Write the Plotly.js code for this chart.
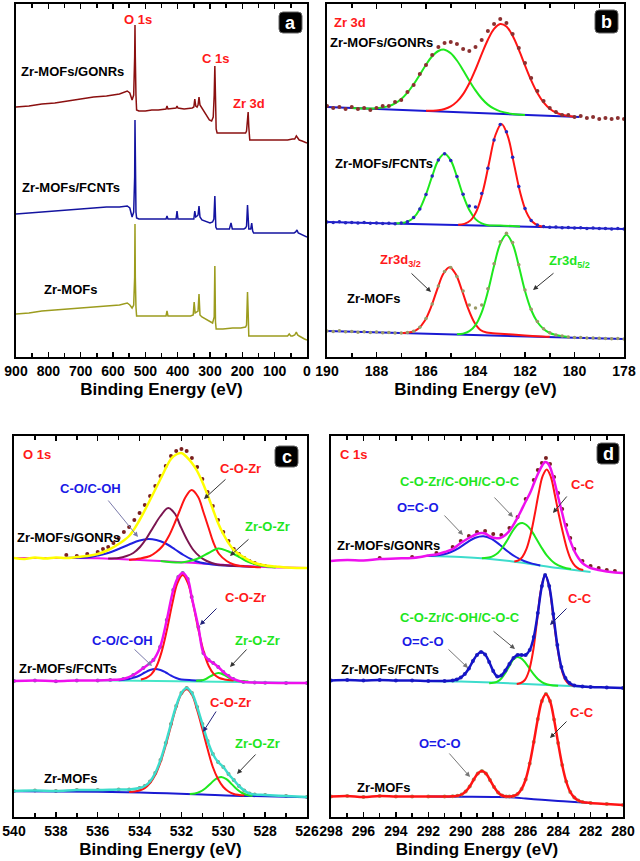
<!DOCTYPE html>
<html><head><meta charset="utf-8">
<script src="https://cdn.plot.ly/plotly-3.0.1.min.js"></script>
<style>html,body{margin:0;padding:0;background:#fff}#chart{width:640px;height:861px}</style>
</head><body><div id="chart"></div>
<script>
// ===================== DATA =====================
// ---- tick labels ----
const aTicks = [0,100,200,300,400,500,600,700,800,900];
const bTicks = [178,180,182,184,186,188,190];
const cTicks = [526,528,530,532,534,536,538,540];
const dTicks = [280,282,284,286,288,290,292,294,296,298];

// ---- Panel a: survey spectra (binding energy eV, intensity a.u.) ----
const aE_gonrs = [900,860,820,780,740,700,660,620,580,556,548,541,536,533,532,531,529,527,520,500,480,460,436,433,430,405,402,399,380,355,350,347,344,340,337,334,331,325,318,310,302,295,290,287,285,283,281,278,270,250,230,210,195,190,187,184,182,180,177,160,140,120,100,80,60,45,38,33,29,24,15,8,0];
const aI_gonrs = [250,251,253,254,256,258,260,261,263,266,264,257,262,300,332,300,262,247,246,246,247,247,248,251,248,249,251,249,248,249,250,258,251,250,252,260,252,249,245,241,237,236,240,262,291,260,228,224,224,224,224,224,224,224,226,240,245,230,217,217,217,217,217,217,217,218,218,221,219,217,216,215,214];
const aE_fcnts = [900,860,820,780,740,700,660,620,580,556,548,541,536,533,532,531,529,527,520,480,440,436,433,430,405,402,399,355,350,347,344,340,337,334,331,325,310,300,292,288,285,282,279,260,240,235,231,228,205,195,190,187,184,182,180,174,171,168,165,140,100,60,40,35,31,27,20,10,0];
const aI_fcnts = [143,144,145,146,147,148,149,150,150,151,149,140,145,180,237,180,145,139,138,138,138,138,141,138,138,146,138,138,138,146,140,141,142,151,140,137,135,134,135,138,161,130,128,128,128,134,128,128,128,128,129,131,152,138,128,128,134,126,124,124,124,124,124,125,127,124,123,121,120];
const aE_mofs = [900,860,820,780,740,700,660,620,580,556,548,541,536,533,532,531,529,527,520,480,440,436,433,430,400,360,352,349,346,340,337,334,331,325,315,305,298,292,287,285,283,281,260,230,205,195,190,187,184,182,180,170,140,100,70,60,55,50,45,38,33,29,24,15,8,0];
const aI_mofs = [43,44,46,47,48,49,50,51,52,54,52,49,52,80,133,80,50,41,41,41,41,41,46,41,41,41,42,55,44,45,46,63,42,40,38,36,35,34,40,91,35,28,28,29,29,30,30,32,65,45,21,21,21,21,21,21,23,21,21,22,25,22,21,19,18,17];

// ---- Panel b: Zr 3d ----
const bE_dots = [190,189.75,189.5,189.25,189,188.75,188.5,188.25,188,187.75,187.5,187.25,187,186.75,186.5,186.25,186,185.75,185.5,185.25,185,184.75,184.5,184.25,184,183.75,183.5,183.25,183,182.75,182.5,182.25,182,181.75,181.5,181.25,181,180.75,180.5,180.25,180,179.75,179.5,179.25,179,178.75,178.5,178.25,178];
const bI_gonrs_dots = [251,249,250,248,250,248,249,247,249,251,251,255,257,265,272,283,292,302,310,314,315,313,308,306,310,317,326,333,338,334,323,309,294,279,266,256,249,245,242,242,240,241,239,240,238,239,238,239,238];
const bE_gonrs_g = [189,188.5,188,187.5,187.25,187,186.75,186.5,186.25,186,185.75,185.5,185.25,185,184.75,184.5,184.25,184,183.75,183.5,183.25,183,182.5,182];
const bI_gonrs_g = [249,248.6,248.8,250.9,253.6,258,264.4,272.7,282.4,292.3,300.7,306,307.3,303.7,296.5,286.8,276.3,266.6,258.5,252.4,248.3,245.6,243.1,242];
const bE_gonrs_r = [186,185.75,185.5,185.25,185,184.75,184.5,184.25,184,183.75,183.5,183.25,183,182.75,182.5,182.25,182,181.75,181.5,181.25,181,180.75,180.5,180.25,180];
const bI_gonrs_r = [246.2,246.3,246.7,248,250.6,255.4,262.9,273.8,287.5,302.8,317.2,328.1,333,330.5,321.2,307.4,291.6,276.6,263.9,254.6,248.3,244.5,242.2,241,240.3];
const bE_gonrs_base = [190,179.8];
const bI_gonrs_base = [250,239.9];

const bI_fcnts_dots = [135,134.6,135.2,134.3,134.6,134,134.4,133.7,134,133.4,133.8,133.2,133.9,135.3,139.4,148.1,162.6,180.9,196.9,203.2,196.6,180.5,162.7,150.9,150.1,163.4,188.8,217,232.5,225.3,199.8,170.4,148.4,136.6,131.9,130.4,129.7,129.9,129.2,129.5,129.0,129.2,128.6,128.9,128.4,128.6,128.1,128.4,128];
const bE_fcnts_g = [187.25,187,186.75,186.5,186.25,186,185.75,185.5,185.25,185,184.75,184.5,184.25,184,183.75,183.5,183.25,183,182.5,182.2];
const bI_fcnts_g = [133.5,133.9,135.3,139.4,148.1,162.6,180.9,196.9,203.2,196.6,180.3,161.7,146.9,137.9,133.6,131.8,131.6,131.4,131,130.4];
const bE_fcnts_r = [184.7,184.45,184.2,183.95,183.7,183.45,183.2,182.95,182.7,182.45,182.2,181.95,181.7,181.45,181.2];
const bI_fcnts_r = [132.2,133.1,136.6,146.4,165.9,194.2,221.5,232.9,221.2,193.6,165,145.2,135.2,131.3,130.2];
const bE_fcnts_base = [190,178];
const bI_fcnts_base = [135,128];

const bI_mofs_dots = [26,25.5,26.2,25.3,25.6,24.8,25.3,24.6,24.9,24.3,24.6,24,24.1,24.4,25.8,29.7,38.4,53,70.9,85.5,89.4,80.6,66,52,49,52,68.2,93.2,115.2,123.8,114.4,92.2,66.9,47.7,35.5,28.3,24.2,22.1,20.9,20.1,19.4,19.5,19,19.1,18.7,18.6,18.3,18.4,18];
const bE_mofs_r = [187.05,186.8,186.55,186.3,186.05,185.8,185.55,185.3,185.05,184.8,184.55,184.3,184.05,183.8,183.55,183.3,183,182.5,182,181.5,181];
const bI_mofs_r = [24.1,24.3,25.3,28.6,36.2,49.7,67.4,83.3,89.7,82.9,66.8,48.7,34.8,27,24.5,23.8,23.2,22.4,21.6,20.8,20.2];
const bE_mofs_g = [184.75,184.5,184.25,184,183.75,183.5,183.25,183,182.75,182.5,182.25,182,181.75,181.5,181.25,181,180.75,180.5,180.25];
const bI_mofs_g = [22.8,23.4,25.8,31.9,44.6,65.4,91.2,113.3,122.2,113,91,66,47,35,28,24,22,20.8,20];
const bE_mofs_base = [190,178];
const bI_mofs_base = [26,18];

// ---- Panel c: O 1s ----
const cE_gonrs_env = [540,539.5,539,538.5,538,537.5,537,536.5,536,535.5,535,534.5,534,533.5,533,532.5,532.25,532,531.75,531.5,531.25,531,530.75,530.5,530.25,530,529.75,529.5,529,528.5,528,527.5,527,526.5,526];
const cI_gonrs_env = [259,258,259.5,258.5,259.5,259,260,261,263,267,273,281,297,317,338,358,362.5,364,360,354,346,335,322,308,294,283,274,267,259.5,254,251.5,250.5,249.5,249,249];
const cE_gonrs_dots = [537.5,537,536.5,536,535.75,535.5,535.25,535,534.75,534.5,534.25,534,533.75,533.5,533.25,533,532.75,532.5,532.25,532,531.75,531.5,531.25,531,530.75,530.5,530.25,530,529.75,529.5,529.25,529,528.75,528.5,528.25,528];
const cI_gonrs_dots = [262,261,263,265,268,270,274,279,285,290,297,304,312,321,331,341,351,361,366,368,366,359,350,338,325,311,297,285,276,268,263,259,256,254,252,251];
const cE_gonrs_base = [540,537.5,536,535,534,533,532,531,530,529,528,527,526];
const cI_gonrs_base = [259,259,258.8,258,257,256,254.8,253.5,252.2,251,250,249.4,249];
const cE_gonrs_co = [537.5,536.5,536,535.5,535,534.5,534,533.58,533.2,532.8,532.3,531.9,531.5,531.1,530.7,530.3,529.5,528.5];
const cI_gonrs_co = [259.3,259.5,261.5,264,268,272.5,276.5,278,277,274,267.5,262,257.5,254.5,253,252,251,250];
const cE_gonrs_p = [535.5,535,534.62,534.3,533.98,533.66,533.34,533,532.63,532.3,532.07,531.75,531.43,531.1,530.79,530.3,529.8,529];
const cI_gonrs_p = [258.5,259,261,264,270,279,290,301,309,303,292,278,267,260,256,252.5,251.5,251];
const cE_gonrs_cozr = [534.5,533.98,533.5,533.2,532.9,532.6,532.3,532.07,531.8,531.51,531.2,530.95,530.7,530.48,530.2,529.84,529.5,529.2,528.7,528.2];
const cI_gonrs_cozr = [257,258.5,261,265,271,281,295,307,320,327,320,305,289,275,263,256,252.5,251,250.3,249.8];
const cE_gonrs_zoz = [533,532,531.5,531.1,530.7,530.24,529.8,529.5,529.2,528.9,528.5,528.1,527.5];
const cI_gonrs_zoz = [256,254.5,256.5,259.5,264,268.5,266,263,259.5,256,253,251,249.5];

const cE_fcnts_env = [540,539,538,537,536,535.4,534.78,534.3,533.82,533.34,533.02,532.7,532.39,532.15,531.94,531.7,531.51,531.19,530.95,530.7,530.48,530.24,530,529.75,529.52,529.04,528.5,528,527,526];
const cI_fcnts_env = [136,136.5,135.8,136.5,136.5,137,138,142,149,157,170,197,227,240,244,238,220,190,164,157,154,150,145,141,138,135,134.5,134.3,134,134];
const cE_fcnts_cozr = [533.94,533.69,533.44,533.19,532.94,532.69,532.44,532.19,531.94,531.69,531.44,531.19,530.94,530.69,530.44,530.19,529.94,529.5];
const cI_fcnts_cozr = [137.6,139,142.6,150.7,165.6,187.5,213,234,242,234,213,187.5,165.6,150.7,142.6,139,137.6,136.5];
const cE_fcnts_co = [535,534.5,534.25,534,533.75,533.5,533.26,533,532.75,532.5,532.25,532,531.5,531];
const cI_fcnts_co = [136.8,138,139.5,141.5,144.5,147,148,147,144.5,141.5,139,137.5,136.8,136.5];
const cE_fcnts_zoz = [531.3,530.95,530.75,530.5,530.24,530,529.75,529.5,529.2,528.8];
const cI_fcnts_zoz = [136.2,137,139,142,144,142.5,139.5,137,136,135.5];
const cE_fcnts_base = [536,526];
const cI_fcnts_base = [136.8,134];

const cE_mofs_env = [540,539,538,537,536,535,534.5,534,533.75,533.5,533.25,533,532.75,532.5,532.25,532,531.75,531.5,531.25,531,530.75,530.5,530.25,530,529.75,529.5,529.25,529,528.75,528.5,528,527,526];
const cI_mofs_env = [26,26.5,26,27,27,27.5,27.5,29,31,35.5,44,57,74,93,111,124,129,124,110,93,76,63,55,50,43,37,31,26.5,23.5,22.5,22,21,20];
const cE_mofs_cozr = [534.5,534.25,534,533.75,533.5,533.25,533,532.75,532.5,532.25,532,531.75,531.5,531.25,531,530.75,530.5,530.25,530,529.75,529.5,529.25,529];
const cI_mofs_cozr = [25,25.4,26.5,28.9,33.8,42.1,54.9,71.8,91.1,109.6,123,127.8,122.6,107,88,68,50,38,30,25.5,23,22,21.4];
const cE_mofs_zoz = [531.6,531.35,531.1,530.85,530.6,530.35,530.1,529.85,529.6,529.35,529.1,528.85,528.6];
const cI_mofs_zoz = [23,23.5,25.3,28.8,33.6,38.2,40,37.8,32.9,27.7,24,22,21.2];
const cE_mofs_base = [540,536,534,532.7,531,529.5,528,526];
const cI_mofs_base = [25.7,25.2,24.5,23.7,22.5,21.3,20.7,19.8];

// ---- Panel d: C 1s ----
const dE_gonrs_env = [298,297,296,295,294,293,292.5,292,291.5,291,290.5,290,289.5,289,288.71,288.5,288.2,287.9,287.58,287.25,286.96,286.65,286.35,286.05,285.73,285.48,285.22,285,284.81,284.65,284.5,284.25,284,283.75,283.5,283.25,283,282.75,282.5,282.25,282,281.5,281,280.5,280];
const dI_gonrs_env = [256,257,256.5,258,258.5,259,260,261.5,262.5,265,268,274,279,283,284,283.5,280.5,279,279,282,287,295,304,314,324,334,344,351,355,354,350,337,320,304,288,276,266,259,254,251,249,247,245.5,244.5,244];
const dE_gonrs_dots = [295,293,291.5,290.5,290,289.5,289,288.5,288,287.5,287,286.5,286,285.5,285.25,285,284.75,284.5,284.25,284,283.75,283.5,283.25,283,282.5,282,281.5,281,280.5];
const dI_gonrs_dots = [259,260,264,270,276,281,285,286,283,282,289,300,318,337,347,354,359,353,340,324,308,292,279,268,256,251,249,247,246];
const dE_gonrs_cc = [286.7,286.45,286.2,285.95,285.7,285.45,285.2,284.95,284.7,284.45,284.2,283.95,283.7,283.45,283.2,282.95,282.7,282.45];
const dI_gonrs_cc = [255.6,256.6,260.2,268.1,282,301.7,323.5,341.1,347.5,340.2,322,302,284,268,257,251,248,247];
const dE_gonrs_coz = [288.7,288.2,287.95,287.7,287.45,287.2,286.95,286.7,286.45,286.2,285.95,285.7,285.45,285.2,284.95,284.7,284.2,283.7,283.2];
const dI_gonrs_coz = [258.7,259.7,261.4,264.3,269,275.1,282,288.4,292.8,294,292,287.6,281.3,274.3,267.6,261.7,253.6,249.7,247.9];
const dE_gonrs_oco = [292.1,291.6,291.1,290.6,290.1,289.6,289.1,288.6,288.1,287.6,287.1,286.6,286.1,285.6,285.1];
const dI_gonrs_oco = [261.2,261.5,262.5,265,269.2,274.7,279.3,280.8,278.1,272.3,265.5,260,256,253.4,251.6];
const dE_gonrs_base = [292,290,288.5,287,285.5,284,283,282];
const dI_gonrs_base = [261,260,258.5,256,252.5,249,247,245];

const dE_fcnts_env = [298,297,296,295,294,293,292,291,290.5,290.25,290,289.75,289.5,289.25,289,288.75,288.5,288.25,288,287.75,287.5,287.25,287,286.75,286.5,286.25,286,285.75,285.5,285.25,285,284.8,284.55,284.3,284.05,283.8,283.55,283.3,283,282.5,282,281,280];
const dI_fcnts_env = [136.5,137,136.5,137,136.5,136.5,136,136,136.5,137.5,139.5,143,148.5,156,162,165,162.5,155,146,140.5,141.5,146.5,153,159,162,162,162,167,180,204,231,242,231,203,172,150,139,134,131.5,130.5,130,129.5,129];
const dE_fcnts_cc = [286.55,286.3,286.05,285.8,285.55,285.3,285.05,284.8,284.55,284.3,284.05,283.8,283.55,283.3,283.05];
const dI_fcnts_cc = [133,134,137,146,165,196,228,242,229.9,200.8,170.2,148.4,137,132.5,131.1];
const dE_fcnts_coz = [288.25,288,287.75,287.5,287.25,287,286.75,286.5,286.25,286,285.75,285.5,285.25,285,284.75,284.5,284];
const dI_fcnts_coz = [133.8,134.2,135.4,138.5,144,151.1,157.6,160.1,158.4,153.9,148.2,142.6,138,134.9,133,132.1,131.3];
const dE_fcnts_base = [292,290,288,286,284,282.2];
const dI_fcnts_base = [136,135.5,134.5,133,131.5,130.2];

const dE_mofs_env = [298,297,296,295,294,293,292,291,290.5,290.2,289.95,289.7,289.45,289.2,288.95,288.7,288.45,288.2,287.95,287.7,287.45,287.2,287,286.75,286.5,286.25,286,285.75,285.5,285.25,285,284.75,284.5,284.25,284,283.75,283.5,283.25,283,282.75,282.5,282,281,280];
const dI_mofs_env = [20.5,21,20,21,20.5,20.5,20.5,20.5,20.8,21.2,22.5,25.5,30.5,37.5,43.5,46,43.5,37,30,24.5,21.5,20.5,20.5,21,23,28,37.5,53.5,75,98,116,123,116,97.5,74,52,35.5,25,19.5,16.5,15,14,13,12];
const dE_mofs_base = [292,290,288,287,286,285,284,283,282.2];
const dI_mofs_base = [20.5,20.3,20,19.7,18.5,17.2,16,15,14.3];

// ===================== STYLE / BUILD =====================
const W = 640, H = 861;
const RED = '#ff1414', GREEN = '#1ee81e', BLUE = '#1a1ad2', PURPLE = '#7b1550',
      YELLOW = '#ffff00', MAGENTA = '#ee10ee', CYAN = '#3ddccc', TEAL = '#45e6c8';
const AX = {a:['x','y'], b:['x2','y2'], c:['x3','y3'], d:['x4','y4']};
function L(p, x, y, color, w, shape) {
  return {type:'scatter', mode:'lines', x, y, xaxis:AX[p][0], yaxis:AX[p][1],
    line:{color, width:w, shape: shape || 'spline', smoothing:1}, hoverinfo:'skip'};
}
function D(p, x, y, color, size) {
  return {type:'scatter', mode:'markers', x, y, xaxis:AX[p][0], yaxis:AX[p][1],
    marker:{color, size, line:{width:0}}, hoverinfo:'skip'};
}
const traces = [
  // a
  L('a', aE_gonrs, aI_gonrs, '#8b1010', 1.5, 'linear'),
  L('a', aE_fcnts, aI_fcnts, '#1414a0', 1.5, 'linear'),
  L('a', aE_mofs, aI_mofs, '#9c9c1e', 1.5, 'linear'),
  // b
  L('b', bE_gonrs_base, bI_gonrs_base, BLUE, 2, 'linear'),
  L('b', bE_gonrs_g, bI_gonrs_g, GREEN, 2),
  L('b', bE_gonrs_r, bI_gonrs_r, RED, 2),
  D('b', bE_dots, bI_gonrs_dots, '#8b3030', 4),
  L('b', bE_fcnts_base, bI_fcnts_base, BLUE, 2, 'linear'),
  L('b', bE_fcnts_g, bI_fcnts_g, GREEN, 2),
  L('b', bE_fcnts_r, bI_fcnts_r, RED, 2),
  D('b', bE_dots, bI_fcnts_dots, '#2626c0', 3.5),
  L('b', bE_mofs_base, bI_mofs_base, BLUE, 2, 'linear'),
  L('b', bE_mofs_r, bI_mofs_r, RED, 2),
  L('b', bE_mofs_g, bI_mofs_g, GREEN, 2),
  D('b', bE_dots, bI_mofs_dots, '#9a9a66', 3.5),
  // c
  D('c', cE_gonrs_dots, cI_gonrs_dots, '#7a2020', 4),
  L('c', cE_gonrs_base, cI_gonrs_base, MAGENTA, 2),
  L('c', cE_gonrs_co, cI_gonrs_co, '#2020e0', 2),
  L('c', cE_gonrs_p, cI_gonrs_p, PURPLE, 2),
  L('c', cE_gonrs_cozr, cI_gonrs_cozr, RED, 2),
  L('c', cE_gonrs_zoz, cI_gonrs_zoz, GREEN, 2),
  L('c', cE_gonrs_env, cI_gonrs_env, YELLOW, 2.5),
  D('c', cE_fcnts_env, cI_fcnts_env, '#6a6a9a', 4),
  L('c', cE_fcnts_base, cI_fcnts_base, TEAL, 2, 'linear'),
  L('c', cE_fcnts_co, cI_fcnts_co, '#2020e0', 2),
  L('c', cE_fcnts_zoz, cI_fcnts_zoz, GREEN, 2),
  L('c', cE_fcnts_cozr, cI_fcnts_cozr, RED, 2),
  L('c', cE_fcnts_env, cI_fcnts_env, MAGENTA, 2.5),
  D('c', cE_mofs_env, cI_mofs_env, '#8a8a70', 4),
  L('c', cE_mofs_base, cI_mofs_base, BLUE, 2),
  L('c', cE_mofs_zoz, cI_mofs_zoz, GREEN, 2),
  L('c', cE_mofs_cozr, cI_mofs_cozr, RED, 2),
  L('c', cE_mofs_env, cI_mofs_env, CYAN, 2.5),
  // d
  D('d', dE_gonrs_dots, dI_gonrs_dots, '#7a2020', 4),
  L('d', dE_gonrs_base, dI_gonrs_base, CYAN, 2),
  L('d', dE_gonrs_oco, dI_gonrs_oco, '#2020e0', 2),
  L('d', dE_gonrs_coz, dI_gonrs_coz, GREEN, 2),
  L('d', dE_gonrs_cc, dI_gonrs_cc, RED, 2),
  L('d', dE_gonrs_env, dI_gonrs_env, MAGENTA, 2.5),
  L('d', dE_fcnts_base, dI_fcnts_base, CYAN, 2),
  L('d', dE_fcnts_coz, dI_fcnts_coz, GREEN, 2),
  L('d', dE_fcnts_cc, dI_fcnts_cc, RED, 2),
  D('d', dE_fcnts_env, dI_fcnts_env, '#3030b0', 4),
  L('d', dE_fcnts_env, dI_fcnts_env, '#1414c8', 2.5),
  L('d', dE_mofs_base, dI_mofs_base, BLUE, 2),
  D('d', dE_mofs_env, dI_mofs_env, '#9a9a66', 4),
  L('d', dE_mofs_env, dI_mofs_env, RED, 2.5)
];

const px = x => x / W, py = y => 1 - y / H;
function xax(anchor, x0, x1, range, ticks, minor) {
  return {anchor, domain:[px(x0), px(x1)], range, tickmode:'array', tickvals:ticks,
    ticktext:ticks.map(v => '<b>' + v + '</b>'), ticks:'inside', ticklen:5, tickwidth:1.5,
    tickcolor:'#000', mirror:'allticks', showline:true, linewidth:2, linecolor:'#000',
    showgrid:false, zeroline:false, automargin:false, fixedrange:true,
    tickfont:{family:'Arial', size:14, color:'#000'},
    minor:{dtick:minor, tick0:0, ticks:'inside', ticklen:4, tickwidth:1.5, tickcolor:'#000', showgrid:false},
    title:{text:'<b>Binding Energy (eV)</b>', standoff:5, font:{family:'Arial', size:17, color:'#000'}}};
}
function yax(anchor, y0, y1, range) {
  return {anchor, domain:[py(y1), py(y0)], range, showticklabels:false, ticks:'', showline:true, mirror:true,
    linewidth:2, linecolor:'#000', showgrid:false, zeroline:false, automargin:false, fixedrange:true};
}
function T(x, y, text, color, size) {
  return {xref:'paper', yref:'paper', x:px(x), y:py(y), text:'<b>' + text + '</b>', showarrow:false,
    xanchor:'center', yanchor:'middle', font:{family:'Arial', size:size || 13, color}};
}
function A(x0, y0, x1, y1, color) {
  return {xref:'paper', yref:'paper', x:px(x1), y:py(y1), ax:x0 - x1, ay:y0 - y1, axref:'pixel', ayref:'pixel',
    text:'', showarrow:true, arrowhead:2, arrowsize:1, arrowwidth:1, arrowcolor:color || '#333'};
}
function box(x0, y0, x1, y1) {
  const r = 4;
  const X = v => px(v), Y = v => py(v);
  const path = `M ${X(x0+r)},${Y(y0)} L ${X(x1-r)},${Y(y0)} Q ${X(x1)},${Y(y0)} ${X(x1)},${Y(y0+r)} ` +
    `L ${X(x1)},${Y(y1-r)} Q ${X(x1)},${Y(y1)} ${X(x1-r)},${Y(y1)} L ${X(x0+r)},${Y(y1)} ` +
    `Q ${X(x0)},${Y(y1)} ${X(x0)},${Y(y1-r)} L ${X(x0)},${Y(y0+r)} Q ${X(x0)},${Y(y0)} ${X(x0+r)},${Y(y0)} Z`;
  return {type:'path', xref:'paper', yref:'paper', path, fillcolor:'#000', line:{color:'#666', width:1}};
}
const TBLUE = '#1a1ae6', TGREEN = '#1ee61e', TRED = '#ff1a1a';
const annotations = [
  // a
  T(138, 19, 'O 1s', TRED), T(215, 59, 'C 1s', TRED), T(249, 103, 'Zr 3d', TRED),
  T(72, 72, 'Zr-MOFs/GONRs', '#000'), T(71, 187, 'Zr-MOFs/FCNTs', '#000'), T(70, 289, 'Zr-MOFs', '#000'),
  T(290.5, 23, 'a', '#fff', 18),
  // b
  T(350, 22, 'Zr 3d', TRED), T(381, 42, 'Zr-MOFs/GONRs', '#000'), T(384, 163, 'Zr-MOFs/FCNTs', '#000'),
  T(373, 298, 'Zr-MOFs', '#000'),
  T(400, 261, 'Zr3d<sub>3/2</sub>', TRED), T(569, 262, 'Zr3d<sub>5/2</sub>', TGREEN),
  A(410, 272, 431, 292), A(555, 272, 533, 290),
  T(606.5, 21.5, 'b', '#fff', 18),
  // c
  T(37, 454, 'O 1s', TRED), T(286.5, 457, 'c', '#fff', 18),
  T(240, 468, 'C-O-Zr', TRED), A(227, 478, 204, 499),
  T(90, 488, 'C-O/C-OH', TBLUE), A(107, 499, 138, 537, '#7a7aaa'),
  T(267, 526, 'Zr-O-Zr', TGREEN), A(250, 538, 230, 556),
  T(68, 537, 'Zr-MOFs/GONRs', '#000'),
  T(245, 597, 'C-O-Zr', TRED), A(218, 607, 200, 625, '#22227a'),
  T(122, 640, 'C-O/C-OH', TBLUE), A(133, 648, 152, 666, '#7a7aaa'),
  T(257, 640, 'Zr-O-Zr', TGREEN), A(248, 648, 230, 667),
  T(68, 668, 'Zr-MOFs/FCNTs', '#000'),
  T(230, 702, 'C-O-Zr', TRED), A(217, 710, 203, 732, '#22227a'),
  T(257, 743, 'Zr-O-Zr', TGREEN), A(257, 753, 237, 774),
  T(70, 778, 'Zr-MOFs', '#000'),
  // d
  T(353, 454, 'C 1s', TRED), T(608, 453.5, 'd', '#fff', 18),
  T(460, 482, 'C-O-Zr/C-OH/C-O-C', TGREEN), A(493, 496, 513, 517, '#777'),
  T(583, 484, 'C-C', TRED), A(568, 495, 553, 513),
  T(418, 507, 'O=C-O', TBLUE), A(443, 514, 463, 535, '#777'),
  T(388, 545, 'Zr-MOFs/GONRs', '#000'),
  T(460, 617, 'C-O-Zr/C-OH/C-O-C', TGREEN), A(492, 630, 515, 649, '#555'),
  T(580, 598, 'C-C', TRED), A(568, 607, 550, 625, '#22227a'),
  T(423, 641, 'O=C-O', TBLUE), A(447, 648, 468, 668, '#777'),
  T(390, 669, 'Zr-MOFs/FCNTs', '#000'),
  T(582, 712, 'C-C', TRED), A(568, 720, 550, 738),
  T(440, 743, 'O=C-O', TBLUE), A(448, 752, 470, 777, '#777'),
  T(383, 787, 'Zr-MOFs', '#000')
];
const layout = {
  width:W, height:H, margin:{l:0, r:0, t:0, b:0}, showlegend:false,
  paper_bgcolor:'#fff', plot_bgcolor:'#fff', font:{family:'Arial'},
  xaxis: xax('y', 16, 307, [900, 0], aTicks, 50), yaxis: yax('x', 4, 357, [0, 353]),
  xaxis2: xax('y2', 327, 624, [190, 178], bTicks, 1), yaxis2: yax('x2', 4, 357, [0, 353]),
  xaxis3: xax('y3', 14, 307, [540, 526], cTicks, 1), yaxis3: yax('x3', 436, 817, [0, 381]),
  xaxis4: xax('y4', 331, 623, [298, 280], dTicks, 1), yaxis4: yax('x4', 436, 817, [0, 381]),
  shapes:[box(279, 12, 302, 33), box(595, 10, 618, 33), box(275, 446, 298, 467), box(597, 443, 619, 464)],
  annotations
};
Plotly.newPlot('chart', traces, layout, {displayModeBar:false, staticPlot:true});
</script></body></html>
